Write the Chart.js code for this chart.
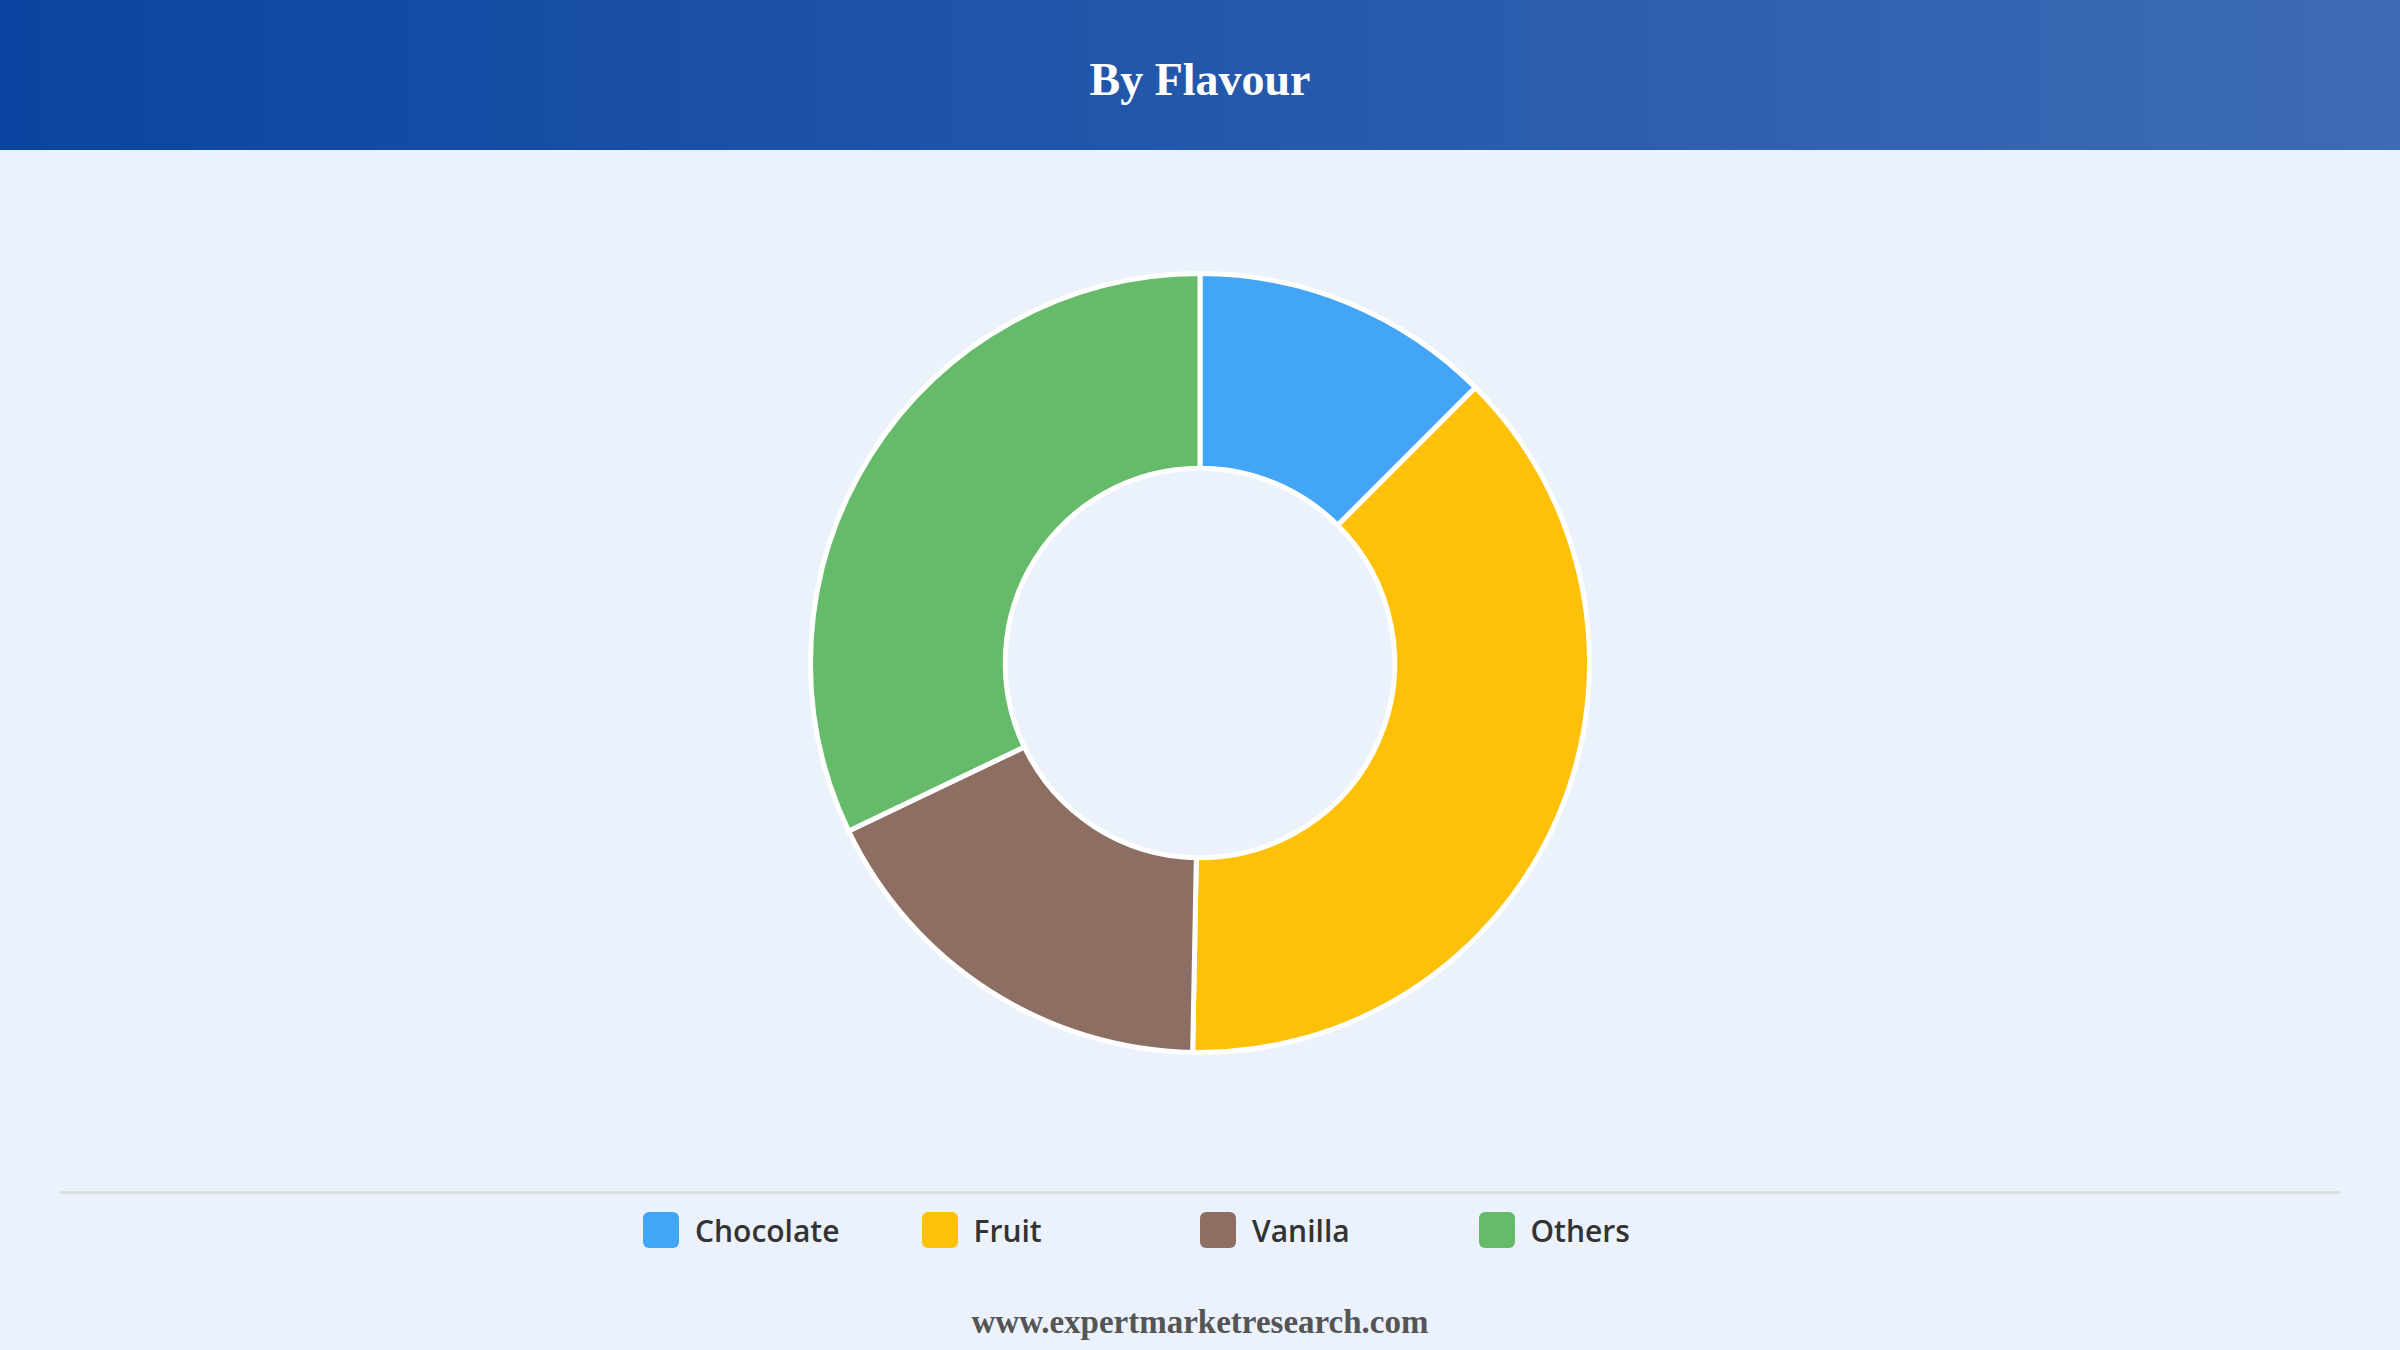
<!DOCTYPE html>
<html>
<head>
<meta charset="utf-8">
<script src="https://cdn.jsdelivr.net/npm/chart.js@4.4.1/dist/chart.umd.min.js"></script>
<style>
    html, body { margin: 0; padding: 0; }
    body { width: 2400px; height: 1350px; background: #ebf2fb; position: relative; overflow: hidden; }
    #header {
        position: absolute; left: 0; top: 0; width: 2400px; height: 150px;
        background: linear-gradient(to right, #0b44a0, #3d6bb5);
    }
    #title {
        position: absolute; left: 0; top: 0; width: 2400px; height: 160px;
        font: bold 46px "Liberation Serif", "Times New Roman", serif; line-height: 160px;
        text-align: center; color: #fff;
    }
    #chartBox { position: absolute; left: 0; top: 263px; width: 2400px; height: 800px; }
    #rule { position: absolute; left: 60px; top: 1191px; width: 2280px; height: 3px; background: #dddfe2; }
    #legend {
        position: absolute; top: 1212px; left: 0; width: 2400px;
        display: flex; justify-content: center;
    }
    .item { width: 278.5px; display: flex; align-items: center; height: 36px; }
    .box { width: 36px; height: 36px; border-radius: 6px; margin-right: 16px; }
    .lbl { font: 600 30px "Open Sans", sans-serif; color: #333; }
    #footer {
        position: absolute; left: 0; top: 1300px; width: 2400px; height: 44px;
        font: bold 33px "Liberation Serif", "Times New Roman", serif; line-height: 44px;
        text-align: center; color: #555;
    }
</style>
</head>
<body>
<div id="header"></div>
<div id="title">By Flavour</div>
<div id="chartBox"><canvas id="myChart"></canvas></div>
<div id="rule"></div>
<div id="legend"></div>
<div id="footer">www.expertmarketresearch.com</div>

<script>
// Dados do gráfico
var categories = ['Chocolate', 'Fruit', 'Vanilla', 'Others'];
var shares = [12.5, 37.8, 17.6, 32.1];
var colors = ['#42a5f5', '#ffc107', '#8d6e63', '#66bb6a'];

var ctx = document.getElementById('myChart').getContext('2d');
var chart = new Chart(ctx, {
    type: 'doughnut',
    data: {
        labels: categories,
        datasets: [{
            data: shares,
            backgroundColor: colors,
            borderColor: '#ffffff',
            borderWidth: 5,
            hoverOffset: 0
        }]
    },
    options: {
        responsive: true,
        maintainAspectRatio: false,
        animation: false,
        cutout: '50%',
        layout: { padding: 8 },
        plugins: {
            legend: { display: false },
            tooltip: { enabled: false }
        }
    }
});

// Legenda em HTML, colunas de largura fixa
var legend = document.getElementById('legend');
categories.forEach(function (name, i) {
    var item = document.createElement('div');
    item.className = 'item';
    item.innerHTML = '<div class="box" style="background:' + colors[i] + '"></div><span class="lbl">' + name + '</span>';
    legend.appendChild(item);
});
</script>
</body>
</html>
